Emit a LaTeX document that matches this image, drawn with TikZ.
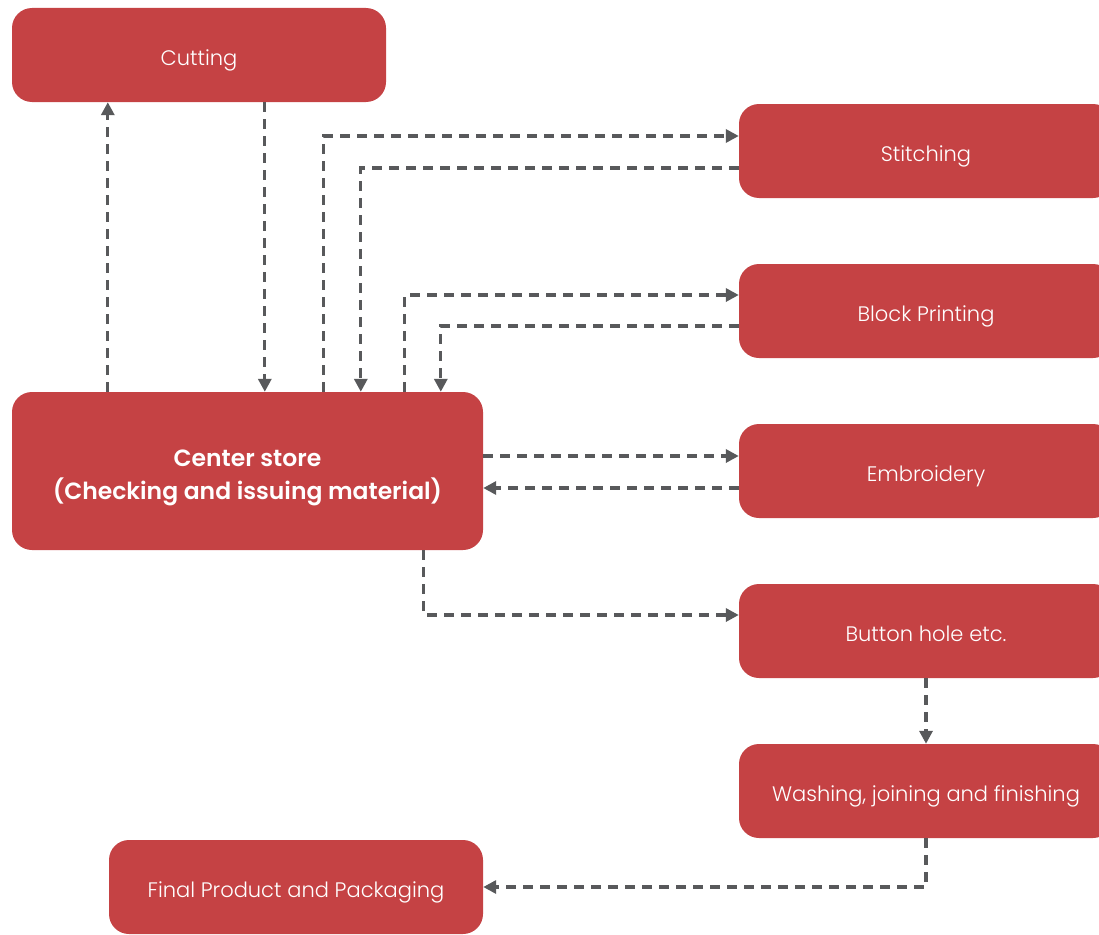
\documentclass[tikz,border=0pt]{standalone}
\usepackage{fontspec}
\setmainfont{Poppins}[UprightFont=* Light, BoldFont=* SemiBold]
\usetikzlibrary{arrows.meta}
\definecolor{boxred}{HTML}{C54244}
\definecolor{conngrey}{HTML}{58595B}
\tikzset{
  box/.style={rectangle, rounded corners=20pt, fill=boxred, text=white, minimum width=374pt, minimum height=94pt, inner sep=0pt, font=\fontsize{21}{25}\selectfont, text height=20pt, text depth=0pt},
  mainbox/.style={rectangle, rounded corners=20pt, fill=boxred, text=white, minimum width=471pt, minimum height=158pt, inner sep=0pt, font=\fontsize{23.5}{33}\selectfont\bfseries},
  conn/.style={draw=conngrey, line width=3.3pt, dash pattern=on 10pt off 7pt, -{Triangle[length=13pt,width=13pt]}}
}
\begin{document}
\begin{tikzpicture}[x=1pt,y=-1pt]
\useasboundingbox (0,0) rectangle (1099,934);
\node[box] (cut) at (199,55) {Cutting};
\node[box] (stitch) at (926,151) {Stitching};
\node[box] (block) at (926,311) {Block Printing};
\node[box] (emb) at (926,471) {Embroidery};
\node[box] (button) at (926,631) {Button hole etc.};
\node[box] (wash) at (926,791) {Washing, joining and finishing};
\node[box] (final) at (296,887) {Final Product and Packaging};
\node[mainbox] (center) at (247.5,471) {\raisebox{-28pt}[0pt][0pt]{\begin{tabular}[b]{@{}c@{}}Center store\\(Checking and issuing material)\end{tabular}}};

\draw[conn] ([xshift=96pt]center.north west) -- ([xshift=96pt]cut.south west);
\draw[conn] ([xshift=253pt]cut.south west) -- ([xshift=253pt]center.north west);
\draw[conn] ([xshift=312pt]center.north west) |- ([yshift=15pt]stitch.west);
\draw[conn] ([yshift=-17pt]stitch.west) -| ([xshift=349pt]center.north west);
\draw[conn] ([xshift=393pt]center.north west) |- ([yshift=16pt]block.west);
\draw[conn] ([yshift=-15pt]block.west) -| ([xshift=429pt]center.north west);
\draw[conn] ([yshift=15pt]center.east) -- ([yshift=15pt]emb.west);
\draw[conn] ([yshift=-17pt]emb.west) -- ([yshift=-17pt]center.east);
\draw[conn] ([xshift=412pt]center.south west) |- ([yshift=16pt]button.west);
\draw[conn] (button.south) -- (wash.north);
\draw[conn] (wash.south) |- (final.east);
\end{tikzpicture}
\end{document}
